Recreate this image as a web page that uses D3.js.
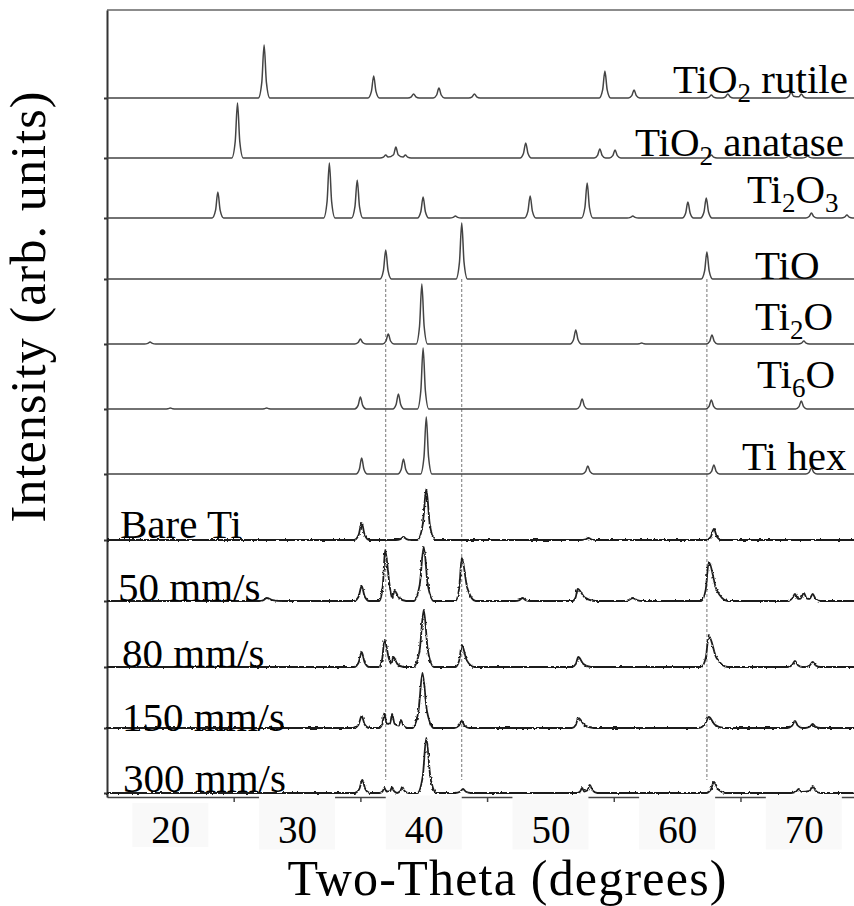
<!DOCTYPE html>
<html>
<head>
<meta charset="utf-8">
<script src="https://cdn.jsdelivr.net/npm/d3@7"></script>
<style>
  body { margin: 0; background: #fff; }
  svg { display: block; }
</style>
</head>
<body>
<div id="chart"></div>
<script>
let w = 854;
let h = 906;
let serif = "'Liberation Serif', 'Times New Roman', serif";

// peaks: [2theta, height, left half-width, right half-width]
let rutile  = [[27.4,53],[36.05,22],[39.2,4],[41.2,10],[44.0,4],[54.3,27],[56.6,8],[62.7,3],[64.0,4],[69.0,6],[69.8,4]];
let anatase = [[25.3,55],[37.0,3],[37.8,11],[38.55,3],[48.05,15],[53.9,9],[55.1,8],[62.7,3],[68.8,2],[70.3,2]];
let ti2o3   = [[23.75,26],[32.55,55],[34.75,38],[39.95,21],[42.5,2],[48.4,22],[52.9,35],[56.5,2],[60.85,16],[62.3,20],[70.6,5],[73.4,3]];
let tio     = [[37.0,29],[43.0,56],[62.35,27]];
let ti2o    = [[18.4,2],[35.0,5],[37.2,10],[39.85,60],[52.0,14],[57.2,1],[62.75,9],[70.0,3]];
let ti6o    = [[20.0,1],[27.6,1],[35.0,12],[38.0,15],[39.95,61],[52.5,10],[62.7,9],[69.8,8]];
let tiHex   = [[35.1,16],[38.4,15],[40.2,57],[52.95,8],[62.9,9],[70.6,6]];
let bareTi  = [[35.1,17],[38.4,3],[40.2,51,0.7,0.7],[53.0,2],[62.9,11]];
let s50     = [[27.6,3,0.6,1.2],[35.1,15],[36.95,51,0.45,0.9],[37.7,10,0.5,0.9],[40.0,54,0.8,0.8],[43.0,43,0.5,1.1],[47.8,3],[52.15,12,0.4,1.4],[56.5,3,0.8,0.8],[62.5,39,0.6,1.5],[69.3,7],[70.0,8],[70.7,7]];
let s80     = [[35.1,15],[36.9,27,0.45,0.9],[37.6,10,0.4,0.8],[40.0,57,0.8,0.8],[43.0,22,0.5,1.0],[52.2,10,0.5,1.0],[62.5,31,0.6,1.5],[69.3,6],[70.7,5]];
let s150    = [[35.1,12],[36.9,15,0.4,0.4],[37.5,14,0.4,0.5],[38.2,8,0.4,0.5],[39.9,55,0.8,0.9],[43.0,7],[52.2,10,0.5,1.2],[62.5,11,0.8,1.2],[69.3,7],[70.7,4]];
let s300    = [[35.15,13],[36.9,5,0.4,0.4],[37.5,6,0.4,0.4],[38.3,6,0.4,0.5],[40.2,55,0.7,0.8],[43.1,4],[52.5,5,0.4,0.4],[53.1,8,0.5,0.6],[62.9,11,0.6,0.9],[69.6,4],[70.7,7]];

let traces = [rutile, anatase, ti2o3, tio, ti2o, ti6o, tiHex, bareTi, s50, s80, s150, s300];
let traceNames = ["TiO_2 rutile", "TiO_2 anatase", "Ti_2O_3", "TiO", "Ti_2O", "Ti_6O", "Ti hex",
                  "Bare Ti", "50 mm/s", "80 mm/s", "150 mm/s", "300 mm/s"];
let traceOffsets = [699, 639, 579, 518, 453, 388, 323, 257, 196, 130, 69, 4];
let isMeasured = [0,0,0,0,0,0,0,1,1,1,1,1];

let tioLines = [37.0, 43.0, 62.35];
let xTicks = [25, 35, 45, 55, 65];
let xLabels = [20, 30, 40, 50, 60, 70];

// layout
let labelX  = [673, 635, 747, 755, 755, 757, 742, 120, 118, 122, 122, 123];
let labelDy = [-5, -2, -15, 0, -14, -21, -4, -2, 0, 0, 3, -1];
let peakDx = [-1, -0.4, 0, 0.4, 1];
let peakFr = [0, 0.3, 1, 0.3, 0];

let svg = d3.select("#chart").append("svg")
  .attr("width", w)
  .attr("height", h)
  .attr("font-family", serif);

let defs = svg.append("defs");
let f = defs.append("filter").attr("id", "jitter")
  .attr("filterUnits", "userSpaceOnUse")
  .attr("x", 0).attr("y", 0).attr("width", w).attr("height", h);
f.append("feTurbulence").attr("type", "fractalNoise").attr("baseFrequency", "0.35").attr("numOctaves", 1).attr("seed", 4).attr("result", "n");
f.append("feDisplacementMap").attr("in", "SourceGraphic").attr("in2", "n").attr("scale", 3)
  .attr("xChannelSelector", "R").attr("yChannelSelector", "G");

let x = d3.scaleLinear().domain([15, 74]).range([107, 854.5]);
let y = d3.scaleLinear().domain([0, 787]).range([797, 10]);

function tracePoints(peaks, wDef) {
  let list = peaks.map(p => ({ c: p[0], h: p[1], wl: p[2] || wDef, wr: p[3] || p[2] || wDef }));
  let pts = [];
  list.forEach(p => {
    peakDx.forEach((dx, i) => {
      let ww = dx < 0 ? p.wl : p.wr;
      pts.push({ x: p.c + dx * ww, y: p.h * peakFr[i], k: Math.abs(dx), p: p });
    });
  });
  // drop feet/shoulders that fall inside a neighbouring peak
  pts = pts.filter(q => {
    if (q.k === 0) return true;
    return !list.some(o => o !== q.p && q.x > o.c - q.k * o.wl && q.x < o.c + q.k * o.wr);
  });
  pts.sort((a, b) => a.x - b.x);
  return [{ x: 15, y: 0 }].concat(pts, [{ x: 74, y: 0 }]);
}

// frame
svg.append("line")
  .attr("x1", x(15)).attr("x2", x(74))
  .attr("y1", y(787)).attr("y2", y(787))
  .attr("stroke", "#666").attr("stroke-width", 1.5);

let xAxis = svg.append("g")
  .attr("transform", "translate(0," + y(0) + ")")
  .call(d3.axisBottom(x).tickValues(xTicks).tickSize(5).tickSizeOuter(0).tickFormat(""));
xAxis.selectAll("path, line").attr("stroke", "#444").attr("stroke-width", 1.5);

// faint label boxes of the original that break the axis line
svg.selectAll(".lbox").data(xLabels).join("rect")
  .attr("class", "lbox")
  .attr("x", d => x(d) - 38)
  .attr("y", d => d === 20 ? y(0) + 6 : y(0) - 1.5)
  .attr("width", 76)
  .attr("height", d => d === 20 ? 44 : 54)
  .attr("fill", "#f9f9f9");

let xLab = svg.append("g")
  .attr("transform", "translate(0," + y(0) + ")")
  .call(d3.axisBottom(x).tickValues(xLabels).tickSize(0).tickPadding(18).tickFormat(d3.format("d")));
xLab.select(".domain").remove();
xLab.selectAll("text")
  .attr("font-family", serif)
  .attr("font-size", 39)
  .attr("fill", "#000");

let yAxis = svg.append("g")
  .attr("transform", "translate(" + x(15) + ",0)")
  .call(d3.axisLeft(y).tickValues(traceOffsets).tickSize(3).tickSizeOuter(0).tickFormat(""));
yAxis.selectAll("path, line").attr("stroke", "#333").attr("stroke-width", 2);

// dashed guide lines through the TiO peaks
svg.selectAll(".guide").data(tioLines).join("line")
  .attr("class", "guide")
  .attr("x1", d => x(d)).attr("x2", d => x(d))
  .attr("y1", y(traceOffsets[3])).attr("y2", y(17))
  .attr("stroke", "#777").attr("stroke-width", 1)
  .attr("stroke-dasharray", "3,2");

// traces
traces.forEach((peaks, i) => {
  let off = traceOffsets[i];
  let line = d3.line()
    .x(d => x(d.x))
    .y(d => y(off + d.y))
    .curve(d3.curveMonotoneX);
  let path = svg.append("path")
    .datum(tracePoints(peaks, isMeasured[i] ? 0.6 : 0.45))
    .attr("fill", "none")
    .attr("stroke", isMeasured[i] ? "#1e1e1e" : "#444")
    .attr("stroke-width", isMeasured[i] ? 1.8 : 1.5)
    .attr("stroke-linejoin", "round")
    .attr("d", line);
  if (isMeasured[i]) path.attr("filter", "url(#jitter)");
});

// trace labels
traceNames.forEach((name, i) => {
  let t = svg.append("text")
    .attr("x", labelX[i])
    .attr("y", y(traceOffsets[i]) + labelDy[i])
    .attr("font-size", 41)
    .attr("fill", "#000");
  let parts = name.split(/_(\d)/);
  parts.forEach((s, j) => {
    if (s === "") return;
    let sub = j % 2 === 1;
    let prevSub = j > 0 && (j - 1) % 2 === 1 && parts[j - 1] !== "";
    t.append("tspan")
      .attr("font-size", sub ? 27 : 41)
      .attr("dy", sub ? 9 : (prevSub ? -9 : 0))
      .text(s);
  });
});

// axis titles
svg.append("text")
  .attr("x", 507)
  .attr("y", 895)
  .attr("text-anchor", "middle")
  .attr("font-size", 50)
  .attr("textLength", 439)
  .attr("lengthAdjust", "spacing")
  .attr("fill", "#000")
  .text("Two-Theta (degrees)");

svg.append("text")
  .attr("transform", "translate(45,307) rotate(-90)")
  .attr("text-anchor", "middle")
  .attr("font-size", 50)
  .attr("textLength", 431)
  .attr("lengthAdjust", "spacing")
  .attr("fill", "#000")
  .text("Intensity (arb. units)");
</script>
</body>
</html>
